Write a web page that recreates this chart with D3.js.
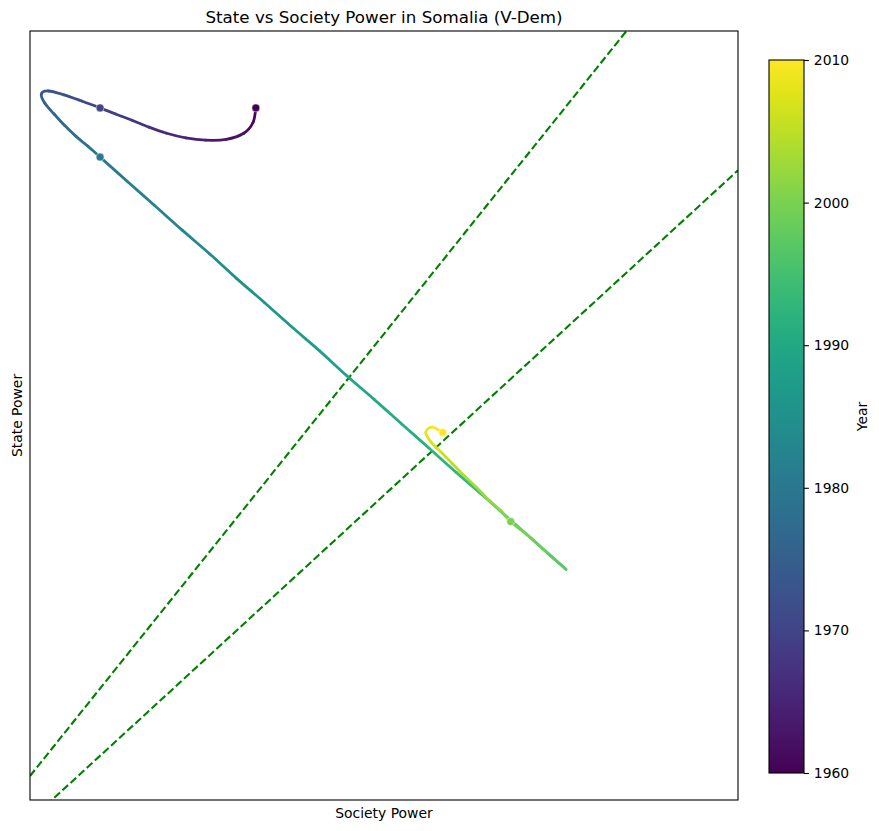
<!DOCTYPE html>
<html>
<head>
<meta charset="utf-8">
<script src="https://cdnjs.cloudflare.com/ajax/libs/d3/7.8.5/d3.min.js"></script>
<style>
  body { margin: 0; background: #fff; }
  text { font-family: "DejaVu Sans", sans-serif; fill: #000; }
</style>
</head>
<body>
<svg id="chart"></svg>
<script>

// yearly trajectory (no axis ticks, so units are relative)
var years = d3.range(1960, 2011);
var society = [0.507, 0.503, 0.490, 0.465, 0.436, 0.408, 0.381, 0.356, 0.332, 0.309,
               0.287, 0.261, 0.236, 0.214, 0.204, 0.209, 0.222, 0.237, 0.253, 0.270,
               0.287, 0.326, 0.364, 0.403, 0.442, 0.480, 0.519, 0.558, 0.597, 0.635,
               0.674, 0.713, 0.751, 0.790, 0.829, 0.868, 0.906, 0.945, 0.919, 0.894,
               0.867, 0.852, 0.835, 0.818, 0.801, 0.784, 0.768, 0.754, 0.747, 0.756,
               0.771];
var state   = [1.085, 1.066, 1.052, 1.044, 1.043, 1.046, 1.052, 1.060, 1.069, 1.077,
               1.085, 1.094, 1.102, 1.107, 1.103, 1.091, 1.077, 1.062, 1.048, 1.035,
               1.021, 0.989, 0.958, 0.926, 0.895, 0.863, 0.832, 0.800, 0.769, 0.737,
               0.706, 0.674, 0.643, 0.611, 0.580, 0.548, 0.517, 0.485, 0.506, 0.527,
               0.547, 0.562, 0.576, 0.592, 0.607, 0.623, 0.638, 0.651, 0.663, 0.670,
               0.663];

var markerYears = [1960, 1970, 1980, 2000, 2010];
var corridorSlopes = [1.15, 0.845];
var colorTicks = [1960, 1970, 1980, 1990, 2000, 2010];

var width = 879, height = 831;
var plot = { left: 30, right: 738, top: 31, bottom: 800 };
var cbar = { left: 769, right: 804, top: 60, bottom: 773 };

var svg = d3.select("#chart")
  .attr("width", width)
  .attr("height", height);

var x = d3.scaleLinear().domain([0.188, 1.188]).range([plot.left, plot.right]);
var y = d3.scaleLinear().domain([0.185, 1.185]).range([plot.bottom, plot.top]);
var color = d3.scaleSequential(d3.interpolateViridis).domain([1960, 2010]);

svg.append("defs").append("clipPath").attr("id", "clip")
  .append("rect")
  .attr("x", plot.left).attr("y", plot.top)
  .attr("width", plot.right - plot.left)
  .attr("height", plot.bottom - plot.top);

var g = svg.append("g").attr("clip-path", "url(#clip)");

// corridor lines
var xs = x.domain();
corridorSlopes.forEach(function(s) {
  g.append("line")
    .attr("x1", x(xs[0])).attr("y1", y(s * xs[0]))
    .attr("x2", x(xs[1])).attr("y2", y(s * xs[1]))
    .attr("stroke", "green")
    .attr("stroke-width", 2.1)
    .attr("stroke-dasharray", "7.7,3.3");
});

// trajectory: one smooth piece per year, coloured by year
var pts = years.map(function(yr, i) { return [x(society[i]), y(state[i])]; });
var n = pts.length;
for (var i = 0; i < n - 1; i++) {
  var p0 = pts[Math.max(i - 1, 0)], p1 = pts[i], p2 = pts[i + 1], p3 = pts[Math.min(i + 2, n - 1)];
  var c1 = [p1[0] + (p2[0] - p0[0]) / 6, p1[1] + (p2[1] - p0[1]) / 6];
  var c2 = [p2[0] - (p3[0] - p1[0]) / 6, p2[1] - (p3[1] - p1[1]) / 6];
  g.append("path")
    .attr("d", "M" + p1 + "C" + c1 + " " + c2 + " " + p2)
    .attr("fill", "none")
    .attr("stroke", color(years[i] + 0.5))
    .attr("stroke-width", 2.8)
    .attr("stroke-linecap", "round");
}

g.selectAll("circle.marker")
  .data(markerYears)
  .enter()
  .append("circle")
  .attr("class", "marker")
  .attr("cx", function(d) { return x(society[years.indexOf(d)]); })
  .attr("cy", function(d) { return y(state[years.indexOf(d)]); })
  .attr("r", 4)
  .attr("fill", function(d) { return color(d); })
  .attr("stroke", "#fff")
  .attr("stroke-width", 0.5);

// frame
svg.append("rect")
  .attr("x", plot.left).attr("y", plot.top)
  .attr("width", plot.right - plot.left)
  .attr("height", plot.bottom - plot.top)
  .attr("fill", "none")
  .attr("stroke", "#000")
  .attr("stroke-width", 1.1);

// titles
svg.append("text")
  .attr("x", (plot.left + plot.right) / 2).attr("y", 23)
  .attr("text-anchor", "middle")
  .style("font-size", "16.7px")
  .text("State vs Society Power in Somalia (V-Dem)");

svg.append("text")
  .attr("x", (plot.left + plot.right) / 2).attr("y", 818)
  .attr("text-anchor", "middle")
  .style("font-size", "13.9px")
  .text("Society Power");

svg.append("text")
  .attr("transform", "translate(22," + (plot.top + plot.bottom) / 2 + ") rotate(-90)")
  .attr("text-anchor", "middle")
  .style("font-size", "13.9px")
  .text("State Power");

// colorbar
var grad = svg.select("defs").append("linearGradient")
  .attr("id", "viridis")
  .attr("x1", "0").attr("y1", "1").attr("x2", "0").attr("y2", "0");
d3.range(0, 1.0001, 0.05).forEach(function(t) {
  grad.append("stop")
    .attr("offset", t)
    .attr("stop-color", d3.interpolateViridis(t));
});

svg.append("rect")
  .attr("x", cbar.left).attr("y", cbar.top)
  .attr("width", cbar.right - cbar.left)
  .attr("height", cbar.bottom - cbar.top)
  .attr("fill", "url(#viridis)")
  .attr("stroke", "#000")
  .attr("stroke-width", 1.1);

var cy = d3.scaleLinear().domain([1960, 2010]).range([cbar.bottom, cbar.top]);
var cAxis = svg.append("g")
  .attr("transform", "translate(" + cbar.right + ",0)")
  .call(d3.axisRight(cy).tickValues(colorTicks).tickFormat(d3.format("d")).tickSize(4.9).tickPadding(4.9));
cAxis.select(".domain").remove();
cAxis.selectAll("line").attr("stroke", "#000").attr("stroke-width", 1.1);
cAxis.selectAll("text")
  .style("font-size", "13.9px")
  .style("font-family", "'DejaVu Sans', sans-serif")
  .attr("fill", "#000");

svg.append("text")
  .attr("transform", "translate(867," + (cbar.top + cbar.bottom) / 2 + ") rotate(-90)")
  .attr("text-anchor", "middle")
  .style("font-size", "13.9px")
  .text("Year");

</script>
</body>
</html>
